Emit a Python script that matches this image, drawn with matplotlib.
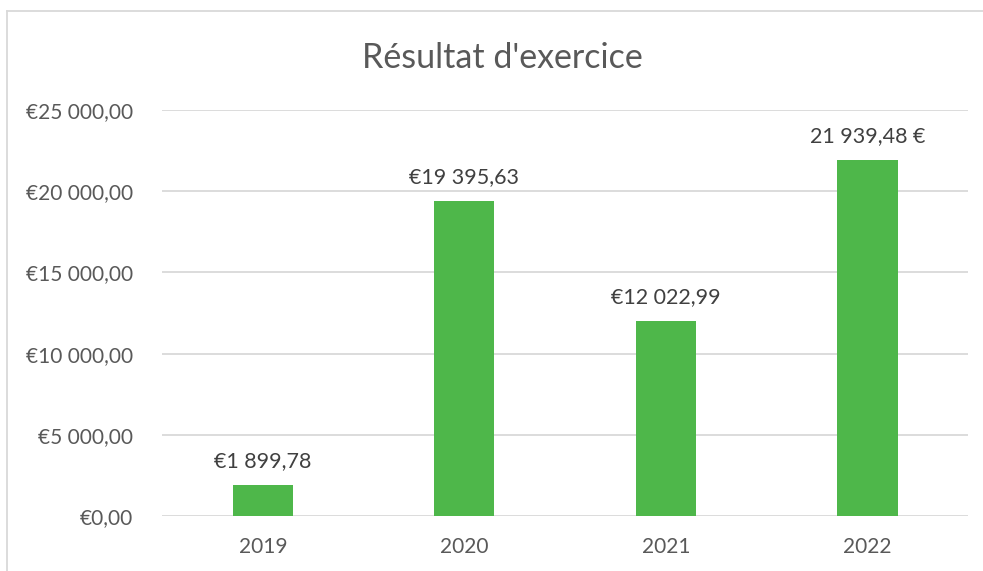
import matplotlib.pyplot as plt
from matplotlib.lines import Line2D

years = ['2019', '2020', '2021', '2022']
results = [1899.78, 19395.63, 12022.99, 21939.48]
value_labels = ['€1 899,78', '€19 395,63', '€12 022,99', '21 939,48 €']
y_ticks = [0, 5000, 10000, 15000, 20000, 25000]
y_tick_labels = ['€0,00', '€5 000,00', '€10 000,00', '€15 000,00', '€20 000,00', '€25 000,00']

plt.rcParams['font.family'] = ['Lato', 'DejaVu Sans']

fig = plt.figure(figsize=(9.83, 5.71), dpi=100)
ax = fig.add_axes([0.1648, 0.0963, 0.82, 0.7111])

x = range(len(years))
bars = ax.bar(x, results, width=0.30, color='#4eb74a', zorder=3)

for i, bar in enumerate(bars):
    ax.annotate(value_labels[i], (bar.get_x() + bar.get_width() / 2, bar.get_height()),
                xytext=(0, 10), textcoords='offset points', ha='center', va='bottom',
                fontsize=15.5, color='#404040')

ax.set_xlim(-0.5, 3.5)
ax.set_ylim(0, 25000)
ax.set_xticks(list(x))
ax.set_xticklabels(years, fontsize=15, color='#595959')
ax.set_yticks(y_ticks)
ax.set_yticklabels(y_tick_labels, fontsize=15, color='#595959')
ax.tick_params(length=0, axis='y', pad=21)
ax.tick_params(length=0, axis='x', pad=15)
ax.grid(axis='y', color='#d9d9d9', linewidth=1.3, zorder=0)
for s in ax.spines.values():
    s.set_visible(False)

fig.text(0.511, 0.899, "Résultat d'exercice", ha='center', va='center',
         fontsize=24.5, color='#595959')

# chart frame (only top and left edges are visible in the crop)
fig.add_artist(Line2D([0.007, 0.007], [0, 0.981], transform=fig.transFigure, color='#d9d9d9', lw=1.3))
fig.add_artist(Line2D([0.007, 1], [0.981, 0.981], transform=fig.transFigure, color='#d9d9d9', lw=1.3))

fig.savefig('out.png', dpi=100)
